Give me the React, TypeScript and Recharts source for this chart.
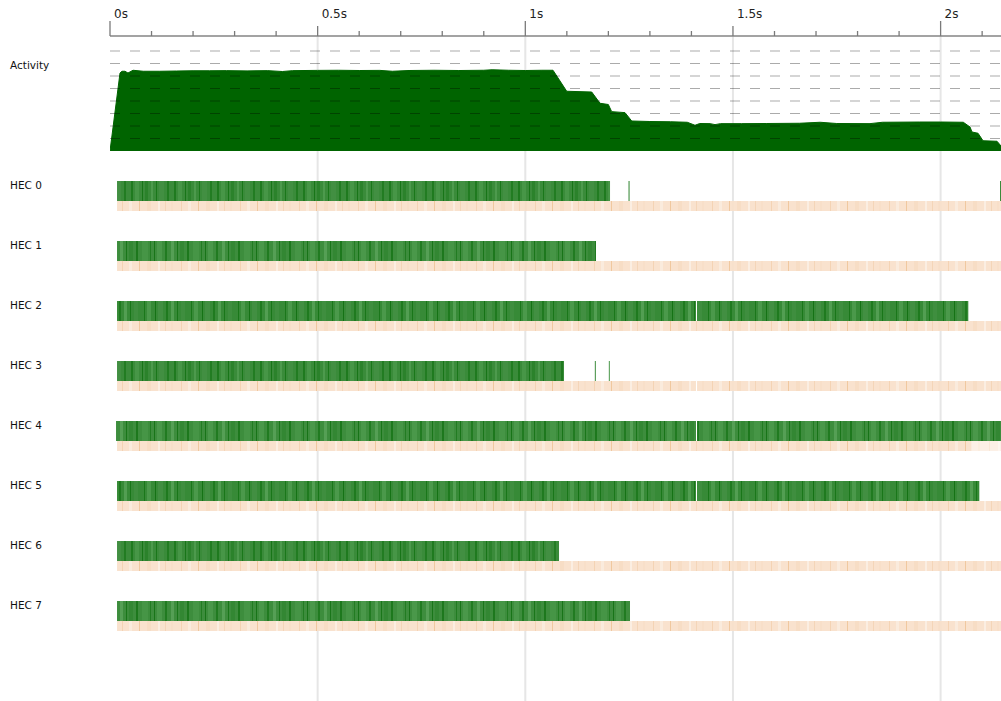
import React from 'react';
import {
  AreaChart,
  Area,
  XAxis,
  YAxis,
  ReferenceLine,
  BarChart,
  Bar,
  Cell,
  Label,
  LineChart,
  Line,
} from 'recharts';

// ---------- data ----------
const T_END = 2.1454; // seconds visible on the time axis
const axisTicks = [0, 0.1, 0.2, 0.3, 0.4, 0.5, 0.6, 0.7, 0.8, 0.9, 1, 1.1, 1.2, 1.3, 1.4, 1.5, 1.6, 1.7, 1.8, 1.9, 2, 2.1];
const majorGridTimes = [0.5, 1, 1.5, 2];
const activityLevels = [1, 2, 3, 4, 5, 6, 7, 8];

const activityTime = [
  0, 0.0241, 0.0289, 0.0361, 0.0433, 0.0554, 0.08, 0.12, 0.16, 0.2, 0.24, 0.28, 0.33, 0.38, 0.415, 0.44,
  0.5, 0.55, 0.6, 0.65, 0.68, 0.72, 0.78, 0.84, 0.9, 0.92, 0.96, 1.0, 1.04, 1.0667, 1.0997, 1.1599,
  1.1799, 1.1999, 1.208, 1.2401, 1.2562, 1.3, 1.35, 1.39, 1.4086, 1.42, 1.445, 1.4568, 1.47, 1.52,
  1.58, 1.66, 1.71, 1.75, 1.83, 1.86, 1.95, 2.0, 2.0546, 2.0708, 2.0756, 2.0901, 2.1021, 2.1358, 2.1454,
];
const activityValue = [
  0, 6.24, 6.38, 6.38, 6.24, 6.46, 6.38, 6.38, 6.4, 6.42, 6.42, 6.43, 6.41, 6.43, 6.36, 6.43,
  6.45, 6.46, 6.44, 6.45, 6.38, 6.44, 6.46, 6.44, 6.46, 6.5, 6.46, 6.44, 6.46, 6.46, 4.78, 4.72,
  3.82, 3.72, 3.15, 3.07, 2.4, 2.36, 2.34, 2.3, 2.06, 2.2, 2.19, 2.11, 2.19, 2.19,
  2.2, 2.22, 2.3, 2.2, 2.19, 2.3, 2.32, 2.32, 2.3, 1.92, 1.52, 1.42, 0.82, 0.78, 0.4,
];

const hecLabels = ['HEC 0', 'HEC 1', 'HEC 2', 'HEC 3', 'HEC 4', 'HEC 5', 'HEC 6', 'HEC 7'];

// running periods (green), seconds
const runSegments: [number, number][][] = [
  [[0.0169, 1.204], [1.2485, 1.2509], [2.143, 2.1454]],
  [[0.0169, 1.1702]],
  [[0.0169, 1.411], [1.4135, 2.0667]],
  [[0.0169, 1.0932], [1.1674, 1.1698], [1.2011, 1.2035]],
  [[0.0145, 1.411], [1.4135, 2.1454]],
  [[0.0169, 1.411], [1.4135, 2.0932]],
  [[0.0169, 1.0812]],
  [[0.0169, 1.2521]],
];

// GC / idle periods (tan); 'n' normal, 'l' light
const gcSegments: [number, number, string][][] = [
  [[0.0169, 2.1454, 'n']],
  [[0.0169, 2.1454, 'n']],
  [[0.0169, 2.1454, 'n']],
  [[0.0169, 1.411, 'n'], [1.4135, 2.1454, 'n']],
  [[0.0169, 2.0749, 'n'], [2.0749, 2.1454, 'l']],
  [[0.0169, 2.1454, 'n']],
  [[0.0169, 2.1454, 'n']],
  [[0.0169, 2.1454, 'n']],
];

const MAX_RUN = 3;
const MAX_GC = 2;

const activityData = activityTime.map((t, i) => ({ t, v: activityValue[i] }));
const backgroundData = [
  { t: 0, y: 0 },
  { t: T_END, y: 0 },
];

const hecData = hecLabels.map((name, i) => {
  const row: Record<string, any> = { name };
  let cursor = 0;
  for (let k = 0; k < MAX_RUN; k++) {
    const s = runSegments[i][k];
    if (s) {
      row[`rgap${k}`] = s[0] - cursor;
      row[`run${k}`] = s[1] - s[0];
      cursor = s[1];
    } else {
      row[`rgap${k}`] = 0;
      row[`run${k}`] = 0;
    }
  }
  cursor = 0;
  for (let k = 0; k < MAX_GC; k++) {
    const s = gcSegments[i][k];
    if (s) {
      row[`ggap${k}`] = s[0] - cursor;
      row[`gc${k}`] = s[1] - s[0];
      cursor = s[1];
    } else {
      row[`ggap${k}`] = 0;
      row[`gc${k}`] = 0;
    }
  }
  return row;
});

// ---------- styles ----------
const FONT = 'DejaVu Sans, Verdana, sans-serif';
const AXIS_Y = 36;
const W = 1001;
const H = 701;

const greenPatterns = [
  { w: 43, base: '#3a8b3a', stripes: [[2, 2, '#1f7a1f'], [6, 4, '#479647'], [13, 1, '#187518'], [16, 3, '#2b822b'], [22, 2, '#4d9a4d'], [27, 1, '#1a771a'], [30, 5, '#428f42'], [38, 2, '#227c22']] },
  { w: 51, base: '#3d8d3d', stripes: [[1, 1, '#187418'], [4, 5, '#4a984a'], [12, 2, '#217b21'], [18, 3, '#559f55'], [24, 1, '#1a761a'], [27, 4, '#338733'], [34, 2, '#1d781d'], [40, 6, '#469546'], [48, 1, '#227c22']] },
  { w: 47, base: '#378a37', stripes: [[3, 1, '#1a771a'], [6, 4, '#4b994b'], [14, 1, '#157215'], [17, 5, '#428f42'], [25, 2, '#1f7a1f'], [30, 3, '#529e52'], [36, 1, '#197619'], [40, 4, '#3f8e3f']] },
];
const tanPattern = {
  w: 59,
  base: '#f8e0ca',
  stripes: [[4, 1, '#f3cfae'], [11, 3, '#fae9da'], [21, 1, '#efc397'], [29, 4, '#f6dac0'], [40, 2, '#fbede0'], [47, 1, '#f3d1b2'], [53, 2, '#f7dcc4']],
};
const tanLightPattern = {
  w: 41,
  base: '#fcefe4',
  stripes: [[5, 1, '#f9e6d5'], [14, 2, '#fdf5ee'], [27, 1, '#f8e3d0'], [35, 2, '#fbebdc']],
};

const PatternDef = ({ id, p, h }: any) => (
  <pattern id={id} patternUnits="userSpaceOnUse" width={p.w} height={h}>
    <rect x={0} y={0} width={p.w} height={h} fill={p.base} />
    {p.stripes.map((s: any, i: number) => (
      <rect key={i} x={s[0]} y={0} width={s[1]} height={h} fill={s[2]} />
    ))}
  </pattern>
);

const TimeTick = (props: any) => {
  const { x, payload } = props;
  const v = payload.value as number;
  const isInt = Math.abs(v - Math.round(v)) < 1e-6;
  const isHalf = Math.abs(v * 2 - Math.round(v * 2)) < 1e-6;
  const len = isInt ? 15 : isHalf ? 10 : 5;
  return (
    <g>
      <line x1={x} x2={x} y1={AXIS_Y - len} y2={AXIS_Y} stroke="#7a7a7a" strokeWidth={1.3} />
      {isHalf && (
        <text x={x + 4} y={18} fontSize={12} fill="#222" fontFamily={FONT}>
          {`${v}s`}
        </text>
      )}
    </g>
  );
};

const HecTick = (props: any) => {
  const { y, payload } = props;
  return (
    <text x={10} y={y - 6.7} fontSize={10.5} fill="#111" fontFamily={FONT}>
      {payload.value}
    </text>
  );
};

export default function App() {
  return (
    <div style={{ position: 'absolute', left: 0, top: 0, width: W, height: H, background: '#fff', fontFamily: FONT }}>
      <svg width={0} height={0} style={{ position: 'absolute' }}>
        <defs>
          {greenPatterns.map((p, i) => (
            <PatternDef key={i} id={`runPat${i}`} p={p} h={H} />
          ))}
          <PatternDef id="gcPat" p={tanPattern} h={H} />
          <PatternDef id="gcLightPat" p={tanLightPattern} h={H} />
        </defs>
      </svg>

      {/* background: major vertical grid lines */}
      <div style={{ position: 'absolute', left: 0, top: 0 }}>
        <LineChart width={W} height={H} data={backgroundData} margin={{ top: AXIS_Y, right: 0, bottom: 0, left: 0 }}>
          <XAxis dataKey="t" type="number" domain={[0, T_END]} hide allowDataOverflow />
          <YAxis width={110} domain={[0, 1]} tick={false} tickLine={false} axisLine={false} />
          <Line dataKey="y" stroke="none" dot={false} activeDot={false} isAnimationActive={false} />
          {majorGridTimes.map((t) => (
            <ReferenceLine key={t} x={t} stroke="#e6e6e6" strokeWidth={2} />
          ))}
        </LineChart>
      </div>

      {/* activity graph */}
      <div style={{ position: 'absolute', left: 0, top: 0 }}>
        <AreaChart width={W} height={151} data={activityData} margin={{ top: 0, right: 0, bottom: 0, left: 0 }}>
          <XAxis
            dataKey="t"
            type="number"
            orientation="top"
            height={AXIS_Y}
            domain={[0, T_END]}
            allowDataOverflow
            ticks={axisTicks}
            interval={0}
            tickLine={false}
            axisLine={{ stroke: '#858585', strokeWidth: 1.5 }}
            tick={<TimeTick />}
          />
          <YAxis width={110} domain={[0, 9.2]} allowDataOverflow tick={false} tickLine={false} axisLine={false}>
            <Label
              content={() => (
                <text x={10} y={69} fontSize={10.5} fill="#111" fontFamily={FONT}>
                  Activity
                </text>
              )}
            />
          </YAxis>
          <Area
            type="linear"
            dataKey="v"
            stroke="#006400"
            strokeWidth={1}
            fill="#006400"
            fillOpacity={1}
            isAnimationActive={false}
            dot={false}
            activeDot={false}
          />
          {activityLevels.map((lv) => (
            <ReferenceLine key={lv} y={lv} stroke="rgba(0,0,0,0.33)" strokeDasharray="10 10" strokeWidth={1} />
          ))}
        </AreaChart>
      </div>

      {/* HEC rows */}
      <div style={{ position: 'absolute', left: 0, top: 0 }}>
        <BarChart
          width={W}
          height={H}
          data={hecData}
          layout="vertical"
          barGap={0}
          margin={{ top: 166, right: 0, bottom: 55, left: 0 }}
        >
          <XAxis type="number" domain={[0, T_END]} hide allowDataOverflow />
          <YAxis type="category" dataKey="name" width={110} axisLine={false} tickLine={false} tick={<HecTick />} interval={0} />
          {Array.from({ length: MAX_RUN }).flatMap((_, k) => [
            <Bar key={`rgap${k}`} dataKey={`rgap${k}`} stackId="run" barSize={20} fill="none" isAnimationActive={false} />,
            <Bar key={`run${k}`} dataKey={`run${k}`} stackId="run" barSize={20} isAnimationActive={false}>
              {hecData.map((_, i) => (
                <Cell key={i} fill={`url(#runPat${i % 3})`} />
              ))}
            </Bar>,
          ])}
          {Array.from({ length: MAX_GC }).flatMap((_, k) => [
            <Bar key={`ggap${k}`} dataKey={`ggap${k}`} stackId="gc" barSize={10} fill="none" isAnimationActive={false} />,
            <Bar key={`gc${k}`} dataKey={`gc${k}`} stackId="gc" barSize={10} fillOpacity={0.92} isAnimationActive={false}>
              {hecData.map((_, i) => {
                const seg = gcSegments[i][k];
                const light = seg && seg[2] === 'l';
                return <Cell key={i} fill={light ? 'url(#gcLightPat)' : 'url(#gcPat)'} />;
              })}
            </Bar>,
          ])}
        </BarChart>
      </div>
    </div>
  );
}
